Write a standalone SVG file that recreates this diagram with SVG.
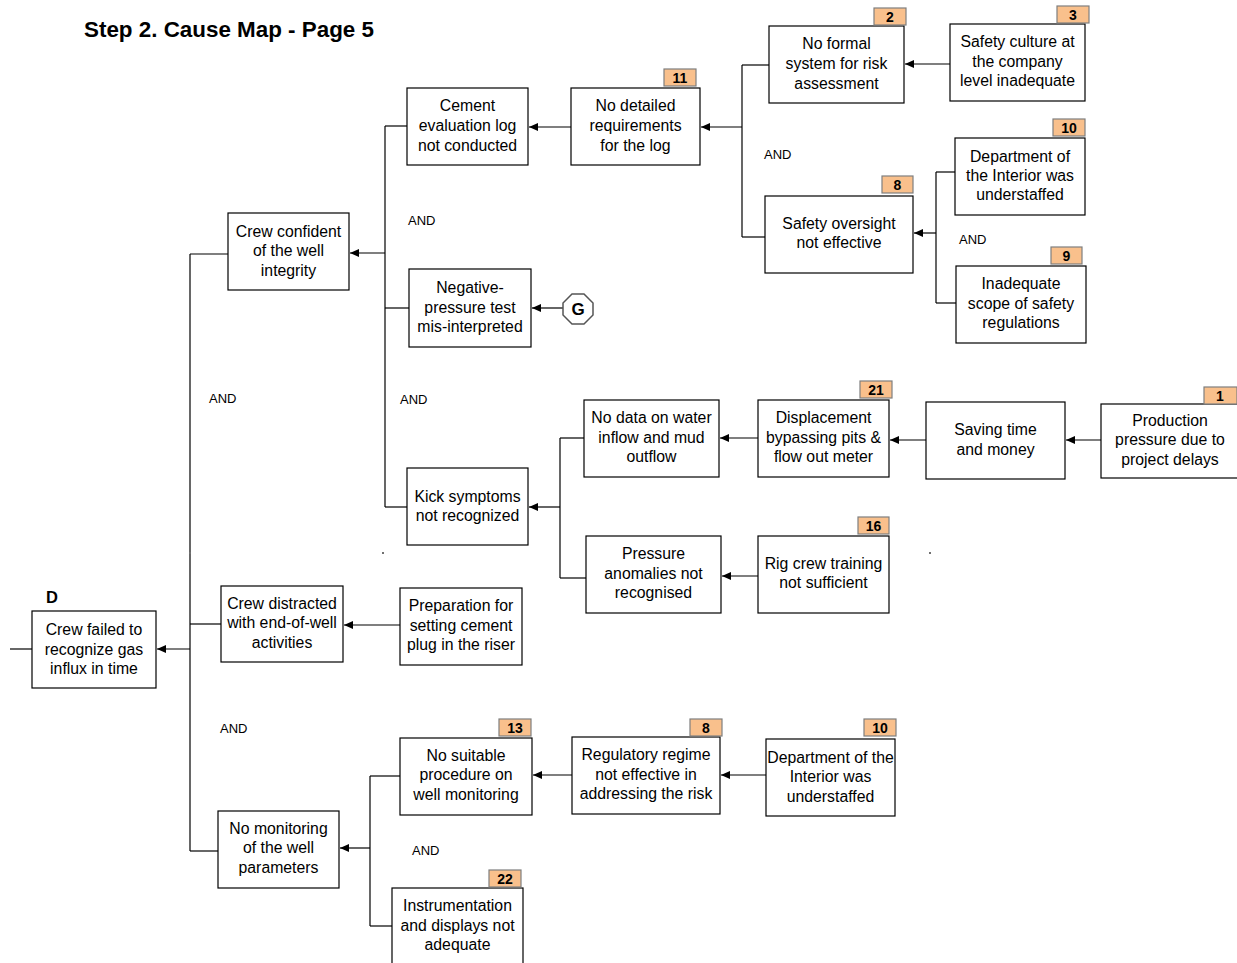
<svg xmlns="http://www.w3.org/2000/svg" width="1237" height="963" viewBox="0 0 1237 963">
  <defs>
    <style>
      .box { fill: #ffffff; stroke: #000000; stroke-width: 1.2; }
      .lbl { font-family: "Liberation Sans", Arial, sans-serif; font-size: 15.8px; fill: #000000; text-anchor: middle; }
      .and { font-family: "Liberation Sans", Arial, sans-serif; font-size: 13px; fill: #000000; }
      .tag { fill: #f9c08c; stroke: #7f7f7f; stroke-width: 1.2; }
      .tagt { font-family: "Liberation Sans", Arial, sans-serif; font-size: 14px; font-weight: bold; fill: #000000; text-anchor: middle; }
      .ln { stroke: #000000; stroke-width: 1.2; fill: none; }
      .arr { stroke: #000000; stroke-width: 1.2; fill: none; marker-end: url(#ah); }
      .dot { fill: #707070; }
    </style>
    <marker id="ah" markerUnits="userSpaceOnUse" markerWidth="10" markerHeight="8" refX="9" refY="4" orient="auto">
      <path d="M0,0 L9,4 L0,8 z" fill="#000000"/>
    </marker>
  </defs>

  <rect width="1237" height="963" fill="#ffffff"/>

  <text x="84" y="37" font-family="Liberation Sans, Arial, sans-serif" font-size="22.4" font-weight="bold">Step 2. Cause Map - Page 5</text>
  <text x="46" y="603" font-family="Liberation Sans, Arial, sans-serif" font-size="16.5" font-weight="bold">D</text>

  <!-- connectors -->
  <g id="connectors">
    <line class="ln" x1="10" y1="649" x2="32" y2="649"/>
    <line class="ln" x1="190" y1="254" x2="190" y2="851"/>
    <line class="arr" x1="190" y1="649" x2="157" y2="649"/>
    <line class="ln" x1="190" y1="254" x2="228" y2="254"/>
    <line class="ln" x1="190" y1="624" x2="221" y2="624"/>
    <line class="ln" x1="190" y1="851" x2="218" y2="851"/>

    <line class="arr" x1="385" y1="253" x2="350" y2="253"/>
    <line class="ln" x1="385" y1="126" x2="385" y2="507"/>
    <line class="ln" x1="385" y1="126" x2="407" y2="126"/>
    <line class="ln" x1="385" y1="308" x2="409" y2="308"/>
    <line class="ln" x1="385" y1="507" x2="407" y2="507"/>

    <line class="arr" x1="571" y1="127" x2="529" y2="127"/>
    <line class="arr" x1="742" y1="127" x2="701" y2="127"/>
    <line class="ln" x1="742" y1="65" x2="742" y2="237"/>
    <line class="ln" x1="742" y1="65" x2="769" y2="65"/>
    <line class="ln" x1="742" y1="237" x2="765" y2="237"/>
    <line class="arr" x1="950" y1="64" x2="905" y2="64"/>

    <line class="arr" x1="936" y1="233" x2="914" y2="233"/>
    <line class="ln" x1="936" y1="172" x2="936" y2="303"/>
    <line class="ln" x1="936" y1="172" x2="955" y2="172"/>
    <line class="ln" x1="936" y1="303" x2="956" y2="303"/>

    <line class="arr" x1="563" y1="308" x2="532" y2="308"/>

    <line class="arr" x1="560" y1="507" x2="529" y2="507"/>
    <line class="ln" x1="560" y1="438" x2="560" y2="578"/>
    <line class="ln" x1="560" y1="438" x2="584" y2="438"/>
    <line class="ln" x1="560" y1="578" x2="586" y2="578"/>
    <line class="arr" x1="758" y1="438" x2="720" y2="438"/>
    <line class="arr" x1="926" y1="440" x2="890" y2="440"/>
    <line class="arr" x1="1101" y1="440" x2="1066" y2="440"/>
    <line class="arr" x1="758" y1="576" x2="722" y2="576"/>

    <line class="arr" x1="400" y1="625" x2="344" y2="625"/>

    <line class="arr" x1="370" y1="848" x2="340" y2="848"/>
    <line class="ln" x1="370" y1="776" x2="370" y2="926"/>
    <line class="ln" x1="370" y1="776" x2="400" y2="776"/>
    <line class="ln" x1="370" y1="926" x2="392" y2="926"/>
    <line class="arr" x1="572" y1="775" x2="533" y2="775"/>
    <line class="arr" x1="766" y1="775" x2="721" y2="775"/>
  </g>

  <!-- AND gate labels -->
  <g id="and-labels">
    <text class="and" x="209" y="403">AND</text>
    <text class="and" x="408" y="225">AND</text>
    <text class="and" x="400" y="404">AND</text>
    <text class="and" x="764" y="159">AND</text>
    <text class="and" x="959" y="244">AND</text>
    <text class="and" x="220" y="733">AND</text>
    <text class="and" x="412" y="855">AND</text>
  </g>

  <!-- stray marks -->
  <rect class="dot" x="189" y="552" width="2" height="2"/>
  <rect class="dot" x="382" y="552" width="2" height="2"/>
  <rect class="dot" x="929" y="552" width="2" height="2"/>

  <g id="node-d">
    <rect class="box" x="32" y="611" width="124" height="77"/>
    <text class="lbl"><tspan x="94" y="634.5">Crew failed to</tspan><tspan x="94" y="654.5">recognize gas</tspan><tspan x="94" y="673.5">influx in time</tspan></text>
  </g>

  <g id="node-crew-confident">
    <rect class="box" x="228" y="213" width="121" height="77"/>
    <text class="lbl"><tspan x="288.5" y="237">Crew confident</tspan><tspan x="288.5" y="256">of the well</tspan><tspan x="288.5" y="276">integrity</tspan></text>
  </g>

  <g id="node-cement-log">
    <rect class="box" x="407" y="88" width="121" height="77"/>
    <text class="lbl"><tspan x="467.5" y="111">Cement</tspan><tspan x="467.5" y="131">evaluation log</tspan><tspan x="467.5" y="151">not conducted</tspan></text>
  </g>

  <g id="node-no-detailed">
    <rect class="box" x="571" y="88" width="129" height="77"/>
    <text class="lbl"><tspan x="635.5" y="111">No detailed</tspan><tspan x="635.5" y="131">requirements</tspan><tspan x="635.5" y="151">for the log</tspan></text>
    <rect class="tag" x="664" y="69" width="32" height="17"/>
    <text class="tagt" x="680" y="83">11</text>
  </g>

  <g id="node-no-formal">
    <rect class="box" x="769" y="26" width="135" height="77"/>
    <text class="lbl"><tspan x="836.5" y="49">No formal</tspan><tspan x="836.5" y="69">system for risk</tspan><tspan x="836.5" y="89">assessment</tspan></text>
    <rect class="tag" x="874" y="8" width="32" height="17"/>
    <text class="tagt" x="890" y="22">2</text>
  </g>

  <g id="node-safety-culture">
    <rect class="box" x="950" y="24" width="135" height="77"/>
    <text class="lbl"><tspan x="1017.5" y="47">Safety culture at</tspan><tspan x="1017.5" y="67">the company</tspan><tspan x="1017.5" y="86">level inadequate</tspan></text>
    <rect class="tag" x="1057" y="6" width="32" height="17"/>
    <text class="tagt" x="1073" y="20">3</text>
  </g>

  <g id="node-safety-oversight">
    <rect class="box" x="765" y="196" width="148" height="77"/>
    <text class="lbl"><tspan x="839" y="229">Safety oversight</tspan><tspan x="839" y="248">not effective</tspan></text>
    <rect class="tag" x="882" y="176" width="31" height="17"/>
    <text class="tagt" x="897.5" y="190">8</text>
  </g>

  <g id="node-doi-1">
    <rect class="box" x="955" y="138" width="130" height="77"/>
    <text class="lbl"><tspan x="1020" y="162">Department of</tspan><tspan x="1020" y="181">the Interior was</tspan><tspan x="1020" y="200">understaffed</tspan></text>
    <rect class="tag" x="1053" y="119" width="32" height="17"/>
    <text class="tagt" x="1069" y="133">10</text>
  </g>

  <g id="node-scope">
    <rect class="box" x="956" y="266" width="130" height="77"/>
    <text class="lbl"><tspan x="1021" y="289">Inadequate</tspan><tspan x="1021" y="309">scope of safety</tspan><tspan x="1021" y="328">regulations</tspan></text>
    <rect class="tag" x="1051" y="247" width="31" height="17"/>
    <text class="tagt" x="1066.5" y="261">9</text>
  </g>

  <g id="node-negative-pressure">
    <rect class="box" x="409" y="269" width="122" height="78"/>
    <text class="lbl"><tspan x="470" y="293">Negative-</tspan><tspan x="470" y="313">pressure test</tspan><tspan x="470" y="332">mis-interpreted</tspan></text>
  </g>

  <g id="node-g">
    <polygon points="572,294 584,294 593,303 593,315 584,324 572,324 563,315 563,303" fill="#ffffff" stroke="#555555" stroke-width="1.5"/>
    <text x="578" y="315" font-family="Liberation Sans, Arial, sans-serif" font-size="17" font-weight="bold" text-anchor="middle">G</text>
  </g>

  <g id="node-kick">
    <rect class="box" x="407" y="468" width="121" height="77"/>
    <text class="lbl"><tspan x="467.5" y="502">Kick symptoms</tspan><tspan x="467.5" y="521">not recognized</tspan></text>
  </g>

  <g id="node-no-data">
    <rect class="box" x="584" y="400" width="135" height="77"/>
    <text class="lbl"><tspan x="651.5" y="423">No data on water</tspan><tspan x="651.5" y="443">inflow and mud</tspan><tspan x="651.5" y="462">outflow</tspan></text>
  </g>

  <g id="node-displacement">
    <rect class="box" x="758" y="400" width="131" height="77"/>
    <text class="lbl"><tspan x="823.5" y="423">Displacement</tspan><tspan x="823.5" y="443">bypassing pits &amp;</tspan><tspan x="823.5" y="462">flow out meter</tspan></text>
    <rect class="tag" x="860" y="381" width="32" height="17"/>
    <text class="tagt" x="876" y="395">21</text>
  </g>

  <g id="node-saving">
    <rect class="box" x="926" y="402" width="139" height="77"/>
    <text class="lbl"><tspan x="995.5" y="435">Saving time</tspan><tspan x="995.5" y="455">and money</tspan></text>
  </g>

  <g id="node-production">
    <rect class="box" x="1101" y="404" width="140" height="74"/>
    <text class="lbl"><tspan x="1170" y="426">Production</tspan><tspan x="1170" y="445">pressure due to</tspan><tspan x="1170" y="465">project delays</tspan></text>
    <rect class="tag" x="1204" y="387" width="33" height="17"/>
    <text class="tagt" x="1220" y="401">1</text>
  </g>

  <g id="node-pressure-anomalies">
    <rect class="box" x="586" y="536" width="135" height="77"/>
    <text class="lbl"><tspan x="653.5" y="559">Pressure</tspan><tspan x="653.5" y="579">anomalies not</tspan><tspan x="653.5" y="598">recognised</tspan></text>
  </g>

  <g id="node-rig-crew">
    <rect class="box" x="758" y="536" width="131" height="77"/>
    <text class="lbl"><tspan x="823.5" y="569">Rig crew training</tspan><tspan x="823.5" y="588">not sufficient</tspan></text>
    <rect class="tag" x="858" y="517" width="31" height="17"/>
    <text class="tagt" x="873.5" y="531">16</text>
  </g>

  <g id="node-crew-distracted">
    <rect class="box" x="221" y="586" width="122" height="76"/>
    <text class="lbl"><tspan x="282" y="609">Crew distracted</tspan><tspan x="282" y="628">with end-of-well</tspan><tspan x="282" y="648">activities</tspan></text>
  </g>

  <g id="node-preparation">
    <rect class="box" x="400" y="588" width="122" height="77"/>
    <text class="lbl"><tspan x="461" y="611">Preparation for</tspan><tspan x="461" y="631">setting cement</tspan><tspan x="461" y="650">plug in the riser</tspan></text>
  </g>

  <g id="node-no-monitoring">
    <rect class="box" x="218" y="811" width="121" height="77"/>
    <text class="lbl"><tspan x="278.5" y="834">No monitoring</tspan><tspan x="278.5" y="853">of the well</tspan><tspan x="278.5" y="873">parameters</tspan></text>
  </g>

  <g id="node-no-suitable">
    <rect class="box" x="400" y="738" width="132" height="77"/>
    <text class="lbl"><tspan x="466" y="761">No suitable</tspan><tspan x="466" y="780">procedure on</tspan><tspan x="466" y="800">well monitoring</tspan></text>
    <rect class="tag" x="499" y="719" width="32" height="17"/>
    <text class="tagt" x="515" y="733">13</text>
  </g>

  <g id="node-regulatory">
    <rect class="box" x="572" y="737" width="148" height="77"/>
    <text class="lbl"><tspan x="646" y="760">Regulatory regime</tspan><tspan x="646" y="780">not effective in</tspan><tspan x="646" y="799">addressing the risk</tspan></text>
    <rect class="tag" x="690" y="719" width="32" height="17"/>
    <text class="tagt" x="706" y="733">8</text>
  </g>

  <g id="node-doi-2">
    <rect class="box" x="766" y="739" width="129" height="77"/>
    <text class="lbl"><tspan x="830.5" y="763">Department of the</tspan><tspan x="830.5" y="782">Interior was</tspan><tspan x="830.5" y="802">understaffed</tspan></text>
    <rect class="tag" x="864" y="719" width="32" height="17"/>
    <text class="tagt" x="880" y="733">10</text>
  </g>

  <g id="node-instrumentation">
    <rect class="box" x="392" y="888" width="131" height="85"/>
    <text class="lbl"><tspan x="457.5" y="911">Instrumentation</tspan><tspan x="457.5" y="931">and displays not</tspan><tspan x="457.5" y="950">adequate</tspan></text>
    <rect class="tag" x="489" y="870" width="32" height="17"/>
    <text class="tagt" x="505" y="884">22</text>
  </g>
</svg>
